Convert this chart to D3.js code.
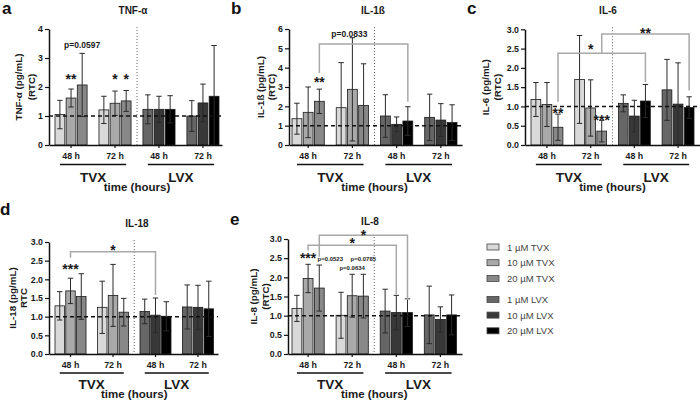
<!DOCTYPE html>
<html><head><meta charset="utf-8">
<script src="https://cdn.jsdelivr.net/npm/d3@7"></script>
<style>body{margin:0;background:#fff}svg{display:block;font-family:"Liberation Sans",Arial,sans-serif}</style>
</head><body>
<svg id="c" width="700" height="403"></svg>
<script>
// ---------- data ----------
const groups = ["TVX 48 h","TVX 72 h","LVX 48 h","LVX 72 h"];
const tickLabels = ["48 h","72 h","48 h","72 h"];
const drugs = ["TVX","LVX"];
const series = ["1 µM TVX","10 µM TVX","20 µM TVX","1 µM LVX","10 µM LVX","20 µM LVX"];
const colors = ["#d9d9d9","#a9a9a9","#888888","#666666","#383838","#000000"];

const tnfMean = [1.05,1.62,2.07, 1.21,1.44,1.52, 1.23,1.23,1.23, 1.00,1.45,1.68];
const tnfSD   = [0.49,0.31,1.09, 0.47,0.42,0.36, 0.50,0.45,0.47, 0.53,0.65,1.75];
const il1Mean = [1.36,1.69,2.26, 1.93,2.88,2.05, 1.50,1.07,1.24, 1.43,1.29,1.16];
const il1SD   = [0.80,1.31,0.63, 2.33,2.67,2.15, 1.10,0.38,0.74, 1.20,0.85,0.92];
const il6Mean = [1.18,1.05,0.46, 1.70,0.96,0.36, 1.08,0.75,1.14, 1.43,1.06,0.97];
const il6SD   = [0.44,0.57,0.34, 1.14,0.73,0.28, 0.22,0.41,0.43, 0.79,1.07,0.28];
const il18Mean= [1.29,1.69,1.54, 1.25,1.57,1.12, 1.14,1.04,1.01, 1.26,1.25,1.21];
const il18SD  = [0.38,0.34,0.61, 0.70,0.83,0.37, 0.33,0.46,0.39, 0.59,0.59,0.74];
const il8Mean = [1.19,1.97,1.72, 1.01,1.52,1.51, 1.12,1.08,1.08, 1.02,0.90,1.02];
const il8SD   = [0.34,0.37,0.60, 0.60,0.56,0.57, 0.57,0.45,0.36, 0.75,0.33,0.52];

const tnfTicks = [0,1,2,3,4];
const il1Ticks = [0,1,2,3,4,5,6];
const halfTicks = [0,0.5,1.0,1.5,2.0,2.5,3.0];

// annotations: g = group, b = bar in group, v = value level
const tnfMarks = [{g:0,b:1,v:2.36,t:"**"},{g:1,b:1,v:2.38,t:"*"},{g:1,b:2,v:2.38,t:"*"},{g:0,b:2,v:3.45,t:"p=0.0597",p:true}];
const il1Marks = [{g:0,b:2,v:3.40,t:"**"}];
const il1Brackets = [{g1:0,b1:2,g2:2,b2:2,top:5.22,l:3.72,r:2.24,lab:{g:1,b:1,v:5.73,t:"p=0.0833",p:true,dx:-3}}];
const il6Marks = [{g:0,b:2,v:0.91,t:"**"},{g:1,b:2,v:0.73,t:"***"}];
const il6Brackets = [
  {g1:0,b1:2,g2:2,b2:2,top:2.38,l:1.12,r:1.63,lab:{g:1,b:1,v:2.55,t:"*"}},
  {g1:1,b1:2,g2:3,b2:2,top:2.88,l:2.38,r:1.41,lab:{g:2,b:2,v:2.98,t:"**"}}];
const il18Marks = [{g:0,b:1,v:2.34,t:"***"}];
const il18Brackets = [{g1:0,b1:1,g2:2,b2:1,top:2.74,l:2.58,r:1.58,lab:{g:1,b:1,v:2.87,t:"*"}}];
const il8Marks = [{g:0,b:1,v:2.58,t:"***"},{g:0,b:2,v:2.47,t:"p=0.0523",p:true,dx:11},
  {g:1,b:1,v:2.24,t:"p=0.0634",p:true},{g:1,b:2,v:2.47,t:"p=0.0785",p:true}];
const il8Brackets = [
  {g1:0,b1:1,g2:2,b2:1,top:2.84,l:2.70,r:1.56,lab:{g:1,b:1,v:2.97,t:"*"}},
  {g1:0,b1:2,g2:2,b2:2,top:3.10,l:2.54,r:1.41,lab:{g:1,b:2,v:3.19,t:"*"}}];

// ---------- layout ----------
const panels = [
 {letter:"a",lxy:[2,14],title:"TNF-α",txy:[133,14],ylab:["TNF-α (pg/mL)","(RTC)"],ylo:[-31,-18],
  mean:tnfMean,sd:tnfSD,ticks:tnfTicks,fmt:d3.format("d"),axisX:[49,222],barsX:[55,219],yR:[145,29],
  marks:tnfMarks,brackets:[],xo:[14,19.5,37,46]},
 {letter:"b",lxy:[231,14],title:"IL-1ß",txy:[373,14],ylab:["IL-1ß (pg/mL)","(RTC)"],ylo:[-29,-18],
  mean:il1Mean,sd:il1SD,ticks:il1Ticks,fmt:d3.format("d"),axisX:[289,462],barsX:[292,457],yR:[145,29],
  marks:il1Marks,brackets:il1Brackets,xo:[14,19.5,37,46]},
 {letter:"c",lxy:[467,14],title:"IL-6",txy:[608,14],ylab:["IL-6 (pg/mL)","(RTC)"],ylo:[-40,-28],
  mean:il6Mean,sd:il6SD,ticks:halfTicks,fmt:d3.format(".1f"),axisX:[525,700],barsX:[531,694],yR:[145,29.3],
  marks:il6Marks,brackets:il6Brackets,xo:[14,19.5,37,46]},
 {letter:"d",lxy:[0,215],title:"IL-18",txy:[137,227],ylab:["IL-18 (pg/mL)","RTC"],ylo:[-37,-26],
  mean:il18Mean,sd:il18SD,ticks:halfTicks,fmt:d3.format(".1f"),axisX:[49,218],barsX:[55,213.5],yR:[354,242],
  marks:il18Marks,brackets:il18Brackets,xo:[14,19,34.5,44]},
 {letter:"e",lxy:[230,225],title:"IL-8",txy:[370,225],ylab:["IL-8 (pg/mL)","(RTC)"],ylo:[-35,-23],
  mean:il8Mean,sd:il8SD,ticks:halfTicks,fmt:d3.format(".1f"),axisX:[288,462],barsX:[292,456.5],yR:[354,239],
  marks:il8Marks,brackets:il8Brackets,xo:[14,19,34.5,44]}
];

const svg = d3.select("#c");
const PI = 0.27;

panels.forEach(P => {
  const g = svg.append("g");
  const yMax = d3.max(P.ticks);
  const y = d3.scaleLinear().domain([0, yMax]).range(P.yR);
  const step = (P.barsX[1]-P.barsX[0])/(groups.length-PI);
  const outer = (P.axisX[1]-P.axisX[0]) - (P.barsX[1]-P.barsX[0]);
  const x = d3.scaleBand().domain(groups).range(P.axisX)
     .paddingInner(PI).paddingOuter(outer/(2*step)).align((P.barsX[0]-P.axisX[0])/outer);
  const xi = d3.scaleBand().domain([0,1,2]).range([0,x.bandwidth()]).paddingInner(0.12);
  const bx = (gi,bi) => x(groups[gi]) + xi(bi) + xi.bandwidth()/2;

  const data = P.mean.map((m,i) => ({gi:Math.floor(i/3), bi:i%3, m, sd:P.sd[i],
        s: (Math.floor(i/3) >= 2 ? 3 : 0) + i%3}));

  // bars
  g.selectAll("rect.bar").data(data).join("rect")
    .attr("x", d => x(groups[d.gi]) + xi(d.bi))
    .attr("width", xi.bandwidth())
    .attr("y", d => y(d.m)).attr("height", d => y(0)-y(d.m))
    .attr("fill", d => colors[d.s]).attr("stroke","#1a1a1a").attr("stroke-width",0.8);

  // error bars
  const eb = g.selectAll("g.eb").data(data).join("g").attr("stroke","#2a2a2a").attr("stroke-width",1);
  eb.append("line").attr("x1",d=>bx(d.gi,d.bi)).attr("x2",d=>bx(d.gi,d.bi))
    .attr("y1",d=>y(Math.max(0,d.m-d.sd))).attr("y2",d=>y(d.m+d.sd));
  eb.append("line").attr("x1",d=>bx(d.gi,d.bi)-2.7).attr("x2",d=>bx(d.gi,d.bi)+2.7)
    .attr("y1",d=>y(d.m+d.sd)).attr("y2",d=>y(d.m+d.sd));
  eb.filter(d=>d.m-d.sd>0).append("line").attr("x1",d=>bx(d.gi,d.bi)-2.7).attr("x2",d=>bx(d.gi,d.bi)+2.7)
    .attr("y1",d=>y(d.m-d.sd)).attr("y2",d=>y(d.m-d.sd));

  // divider
  const xDiv = (x(groups[1]) + x.bandwidth() + x(groups[2]))/2;
  g.append("line").attr("x1",xDiv).attr("x2",xDiv).attr("y1",y(yMax)-2).attr("y2",y(0))
    .attr("stroke","#666").attr("stroke-width",1).attr("stroke-dasharray","1,2");

  // baseline y = 1
  g.append("line").attr("x1",P.axisX[0]).attr("x2",P.axisX[1]).attr("y1",y(1)).attr("y2",y(1))
    .attr("stroke","#111").attr("stroke-width",1.5).attr("stroke-dasharray","4,3");

  // axes
  const ya = g.append("g").attr("transform",`translate(${P.axisX[0]},0)`)
    .call(d3.axisLeft(y).tickValues(P.ticks).tickFormat(P.fmt).tickSize(4).tickSizeOuter(0));
  const xa = g.append("g").attr("transform",`translate(0,${y(0)})`)
    .call(d3.axisBottom(x).tickFormat((d,i)=>tickLabels[i]).tickSize(3).tickSizeOuter(0));
  [ya,xa].forEach(a => {
    a.select(".domain").attr("stroke","#111").attr("stroke-width",1.5);
    a.selectAll(".tick line").attr("stroke","#111").attr("stroke-width",1.2);
    a.selectAll("text").attr("font-family","Liberation Sans, Arial, sans-serif")
      .attr("font-weight","bold").attr("font-size",8.8).attr("fill","#1a1a1a");
  });
  ya.selectAll("text").attr("x",-6);
  xa.selectAll("text").attr("y",null).attr("dy",null).attr("transform",`translate(0,${P.xo[0]})`);

  // drug underlines and labels
  drugs.forEach((dname,k) => {
    const xa0 = bx(2*k,0), xa1 = bx(2*k+1,2);
    g.append("line").attr("x1",xa0).attr("x2",xa1).attr("y1",y(0)+P.xo[1]).attr("y2",y(0)+P.xo[1])
      .attr("stroke","#111").attr("stroke-width",1.5);
    g.append("text").attr("x",(xa0+xa1)/2).attr("y",y(0)+P.xo[2]).attr("text-anchor","middle")
      .attr("font-weight","bold").attr("font-size",13.5).attr("fill","#1a1a1a").text(dname);
  });
  g.append("text").attr("x",xDiv).attr("y",y(0)+P.xo[3]).attr("text-anchor","middle")
    .attr("font-weight","bold").attr("font-size",11.5).attr("fill","#1a1a1a").text("time (hours)");

  // y label
  const ymid = (P.yR[0]+P.yR[1])/2;
  P.ylab.forEach((t,k) => {
    g.append("text").attr("transform",`translate(${P.axisX[0]+P.ylo[k]+3.5},${ymid}) rotate(-90)`)
      .attr("text-anchor","middle").attr("font-weight","bold").attr("font-size",9.8)
      .attr("fill","#1a1a1a").text(t);
  });

  // title & letter
  g.append("text").attr("x",P.txy[0]).attr("y",P.txy[1]).attr("text-anchor","middle")
    .attr("font-weight","bold").attr("font-size",10).attr("fill","#1a1a1a").text(P.title);
  g.append("text").attr("x",P.lxy[0]).attr("y",P.lxy[1])
    .attr("font-weight","bold").attr("font-size",17).attr("fill","#111").text(P.letter);

  // brackets
  P.brackets.forEach(B => {
    const x1 = bx(B.g1,B.b1), x2 = bx(B.g2,B.b2);
    g.append("path").attr("d",`M${x1},${y(B.l)}V${y(B.top)}H${x2}V${y(B.r)}`)
      .attr("fill","none").attr("stroke","#a8a8a8").attr("stroke-width",1.5);
  });
  const marks = P.marks.concat(P.brackets.map(B=>B.lab));
  marks.forEach(M => {
    const fs = M.p ? (P.letter==="e" ? 6 : 8.5) : 14;
    const off = M.p ? 0.35*fs : 0.56*fs;
    g.append("text").attr("x",bx(M.g,M.b)+(M.dx||0)).attr("y",y(M.v)+off).attr("text-anchor","middle")
      .attr("font-weight","bold").attr("font-size",fs).attr("fill","#1a1a1a").text(M.t);
  });
});

// legend
const leg = svg.append("g");
series.forEach((s,i) => {
  const yy = 247 + i*15.7 + (i>=3 ? 5.3 : 0);
  leg.append("rect").attr("x",487).attr("y",yy-3).attr("width",12).attr("height",6)
    .attr("fill",colors[i]).attr("stroke","#444").attr("stroke-width",0.8);
  leg.append("text").attr("x",507).attr("y",yy+3.5).attr("font-size",9.5).attr("fill","#444").text(s);
});
</script>
</body></html>
